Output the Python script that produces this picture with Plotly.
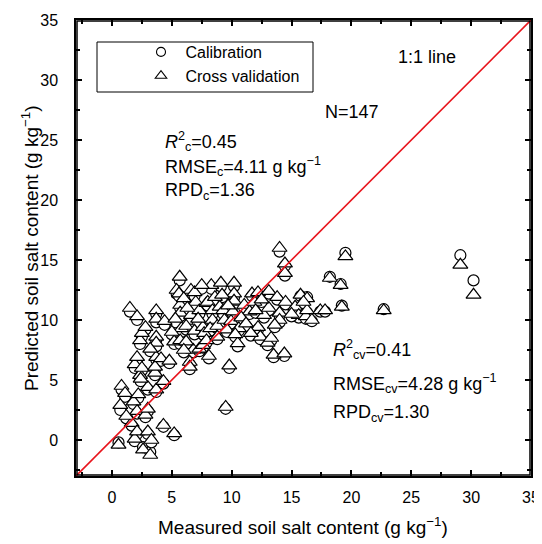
import plotly.graph_objects as go

measured = [0.55, 0.7, 0.8, 1.1, 1.5, 2.1, 1.65, 1.8, 1.9, 1.9, 2.1, 2.1, 2.1, 2.2, 2.35, 2.35, 2.5, 2.5, 2.6, 2.8,
            3.0, 3.0, 3.0, 3.2, 3.3, 3.6, 3.6, 3.7, 3.7, 3.7, 3.7, 3.7, 3.7, 4.1, 4.3, 4.3, 4.4, 5.2, 5.2,
            5.4, 5.66, 5.7, 5.7, 5.8, 5.7, 5.6, 6.6, 6.6, 6.2, 6.5, 6.5, 6.8, 7.0, 6.9, 6.2, 7.3, 7.6, 7.3,
            7.6, 7.7, 7.9, 7.9, 8.0, 8.3, 8.4, 8.4, 8.2, 8.8, 9.0, 9.1, 9.3, 9.4, 9.5, 9.6, 9.8, 9.95, 10.1,
            10.1, 10.2, 10.2, 10.2, 10.5, 10.6, 10.3, 11.05, 11.5, 11.7, 11.9, 12.2, 12.2, 12.4, 12.7, 13.0,
            13.1, 13.1, 13.3, 13.5, 13.8, 14.0, 14.0, 14.0, 14.45, 14.45, 14.4, 14.5, 15.3, 15.6, 15.75, 16.2,
            16.3, 16.3, 16.7, 17.4, 17.8, 18.2, 19.1, 19.2, 19.5, 22.7, 29.1, 30.2,
            5.3, 6.0, 6.3, 6.9, 7.2, 7.5, 8.6, 8.8, 9.2, 9.7, 10.8, 11.2, 12.0, 12.5, 6.0, 5.0, 4.8, 3.2,
            2.8, 1.2, 2.4, 8.1, 11.6, 13.6, 15.0, 16.0]

predicted_cal = [-0.2, 2.5, 4.2, 3.6, 10.7, 10.0, 1.2, 3.0, -0.1, 6.0, 6.6, 0.5, 2.2, 3.5, 5.2, 8.0, 5.8, 8.6, -0.6, 1.9,
                 2.4, 4.2, 0.5, -1.0, -0.2, 5.4, 5.9, 6.7, 4.0, 8.3, 7.8, 10.5, 9.8, 6.6, 4.7, 1.1, 9.6, 0.4, 8.0,
                 12.2, 13.3, 11.0, 10.3, 9.0, 8.0, 12.0, 12.2, 10.1, 9.2, 6.3, 5.9, 7.3, 11.2, 8.8, 8.0, 7.4, 7.7, 10.5,
                 9.2, 8.7, 11.1, 8.1, 11.2, 12.6, 10.5, 9.8, 9.1, 9.3, 10.9, 12.8, 10.5, 9.8, 2.6, 9.0, 6.0, 9.7, 11.2,
                 10.5, 12.8, 11.9, 11.3, 7.8, 9.1, 8.6, 11.0, 10.5, 12.0, 11.3, 12.1, 9.2, 8.4, 10.2, 7.9,
                 12.2, 10.8, 8.3, 6.9, 11.7, 10.4, 9.8, 15.7, 14.5, 13.7, 7.0, 11.3, 10.9, 10.2, 12.0, 10.1,
                 11.9, 10.6, 9.9, 10.7, 10.7, 13.6, 13.0, 11.2, 15.6, 10.9, 15.4, 13.3,
                 9.8, 11.5, 10.8, 12.0, 9.8, 12.6, 11.6, 8.4, 11.9, 10.9, 10.0, 9.5, 10.6, 11.5, 7.3, 8.8, 6.4, 7.4,
                 9.2, 1.8, 4.9, 6.8, 8.7, 9.4, 10.3, 11.4]

predicted_cv = [-0.4, 2.9, 4.5, 3.9, 11.0, 10.3, 1.4, 3.2, 0.1, 6.3, 6.9, 0.7, 2.4, 3.8, 5.4, 8.3, 6.0, 8.9, -0.8, 2.1,
                2.6, 4.4, 0.7, -1.25, 0.0, 5.6, 6.1, 6.9, 4.2, 8.6, 8.1, 10.8, 10.1, 6.8, 4.9, 1.25, 9.9, 0.55, 8.2,
                12.5, 13.6, 11.25, 10.6, 9.3, 8.3, 12.2, 12.5, 10.4, 9.5, 6.5, 6.1, 7.5, 11.5, 9.1, 8.2, 7.6, 7.9, 10.8,
                9.4, 8.9, 11.4, 8.3, 11.5, 12.9, 10.8, 10.0, 9.3, 9.5, 11.1, 13.1, 10.8, 10.0, 2.75, 9.2, 6.2, 9.9, 11.5,
                10.7, 13.1, 12.2, 11.6, 8.05, 9.3, 8.8, 11.25, 10.7, 12.2, 11.5, 12.3, 9.4, 8.6, 10.4, 8.1,
                12.4, 11.0, 8.5, 7.1, 11.9, 10.6, 10.0, 16.0, 14.7, 13.9, 7.2, 11.5, 11.1, 10.4, 12.1, 10.3,
                11.8, 10.8, 10.0, 10.8, 10.8, 13.5, 12.9, 11.1, 15.3, 10.8, 14.6, 12.1,
                10.1, 11.8, 11.0, 12.3, 10.1, 12.9, 11.9, 8.6, 12.1, 11.2, 10.2, 9.7, 10.8, 11.7, 7.5, 9.0, 6.6, 7.6,
                9.4, 2.0, 5.1, 7.0, 8.9, 9.6, 10.5, 11.5]

one_to_one = [-3, 35]
axis_range = [-3, 35]
major_step = 5
minor_step = 2.5

FONT = "Liberation Sans, Arial, sans-serif"

fig = go.Figure()

fig.add_trace(go.Scatter(
    x=measured, y=predicted_cal, mode="markers", name="Calibration", showlegend=False,
    marker=dict(symbol="circle", size=11, color="white", line=dict(color="black", width=1.2)),
))
fig.add_trace(go.Scatter(
    x=measured, y=predicted_cv, mode="markers", name="Cross validation", showlegend=False,
    marker=dict(symbol="triangle-up", size=13, color="white", line=dict(color="black", width=1.2)),
))
fig.add_trace(go.Scatter(
    x=one_to_one, y=one_to_one, mode="lines", showlegend=False,
    line=dict(color="#e8141c", width=1.6),
))
fig.add_trace(go.Scatter(
    x=[None], y=[None], mode="markers", name="\u00a0Calibration",
    marker=dict(symbol="circle", size=9, color="white", line=dict(color="black", width=1.1)),
))
fig.add_trace(go.Scatter(
    x=[None], y=[None], mode="markers", name="\u00a0Cross validation",
    marker=dict(symbol="triangle-up", size=10, color="white", line=dict(color="black", width=1.1)),
))

axis_common = dict(
    range=axis_range, tick0=0, dtick=major_step, ticks="inside", ticklen=6, tickwidth=1.5, tickcolor="black",
    showline=True, linecolor="black", linewidth=1.5, mirror="allticks", showgrid=False, zeroline=False,
    automargin=False, layer="above traces", tickfont=dict(family=FONT, size=16, color="black"),
    minor=dict(dtick=minor_step, ticks="inside", ticklen=4, tickwidth=1.5, tickcolor="black", showgrid=False),
)

# page body has an 8px margin: margins chosen so the plot area lands at 76..531 x 20..476
fig.update_layout(
    width=542, height=544,
    margin=dict(l=68, r=19, t=12, b=76, autoexpand=False),
    plot_bgcolor="white", paper_bgcolor="white",
    font=dict(family=FONT, color="black"),
    xaxis=dict(axis_common, ticklabelstandoff=6),
    yaxis=dict(axis_common, ticklabelstandoff=13),
    legend=dict(x=(141 - 76) / 455, y=(476 - 35) / 456, xanchor="left", yanchor="top",
                bgcolor="rgba(0,0,0,0)", borderwidth=0, font=dict(family=FONT, size=16),
                itemsizing="trace", tracegroupgap=0),
    shapes=[
        dict(type="rect", xref="paper", yref="paper",
             x0=(97 - 76) / 455, x1=(313 - 76) / 455,
             y0=(476 - 92) / 456, y1=(476 - 42) / 456,
             line=dict(color="black", width=1), fillcolor="rgba(0,0,0,0)"),
        # plot frame, drawn just inside the plot area edge
        dict(type="rect", xref="paper", yref="paper",
             x0=1 / 455, x1=1 - 1 / 455, y0=1 / 456, y1=1 - 1 / 456,
             line=dict(color="black", width=1.5), fillcolor="rgba(0,0,0,0)"),
    ],
)

def px_to_paper_x(px):
    return (px - 76) / 455

def px_to_paper_y(py):
    return (476 - py) / 456

texts = [
    ("1:1 line", 396, 57),
    ("N=147", 323, 112),
    ("<i>R</i><sup>2</sup><sub>c</sub>=0.45", 163, 141),
    ("RMSE<sub>c</sub>=4.11 g kg<sup>\u22121</sup>", 163, 166),
    ("RPD<sub>c</sub>=1.36", 163, 191),
    ("<i>R</i><sup>2</sup><sub>cv</sub>=0.41", 331, 350),
    ("RMSE<sub>cv</sub>=4.28 g kg<sup>\u22121</sup>", 331, 383),
    ("RPD<sub>cv</sub>=1.30", 331, 413),
]
for t, px, py in texts:
    fig.add_annotation(text=t, xref="paper", yref="paper", x=px_to_paper_x(px), y=px_to_paper_y(py),
                       xanchor="left", yanchor="middle", showarrow=False,
                       font=dict(family=FONT, size=18, color="black"))

fig.add_annotation(text="Measured soil salt content (g kg<sup>\u22121</sup>)", xref="paper", yref="paper",
                   x=px_to_paper_x(303), y=px_to_paper_y(526), xanchor="center", yanchor="middle",
                   showarrow=False, font=dict(family=FONT, size=19, color="black"))
fig.add_annotation(text="Predicted soil salt content (g kg<sup>\u22121</sup>)", xref="paper", yref="paper",
                   x=px_to_paper_x(30), y=px_to_paper_y(248), xanchor="center", yanchor="middle",
                   textangle=-90, showarrow=False, font=dict(family=FONT, size=19, color="black"))

fig.write_html("out.html")
